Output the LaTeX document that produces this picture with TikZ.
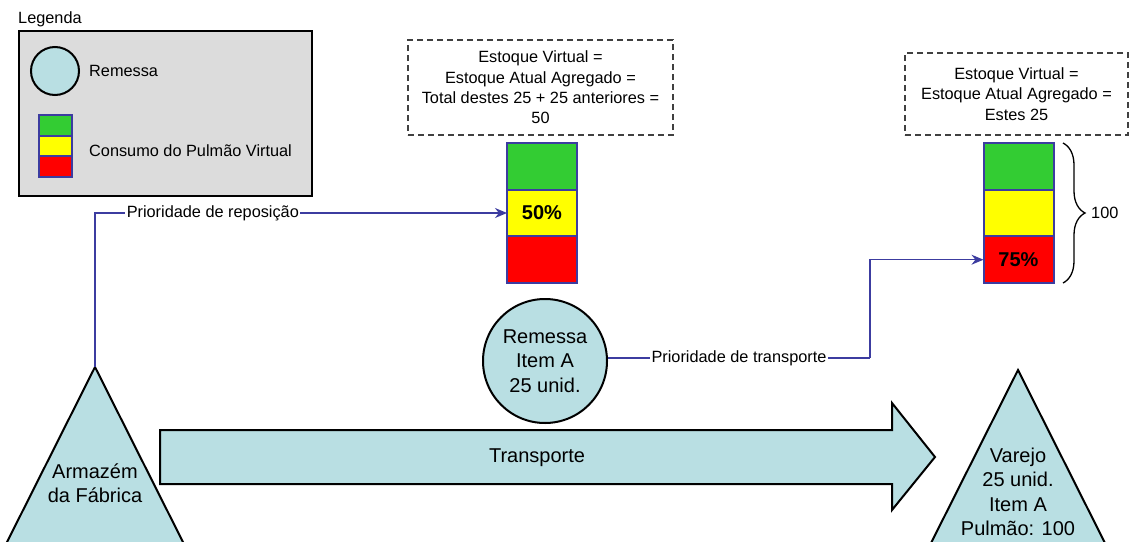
\documentclass[tikz,border=0pt]{standalone}
\usepackage{fontspec}
\setmainfont{Liberation Sans}
\usetikzlibrary{arrows.meta,decorations.pathreplacing}
\definecolor{lblue}{HTML}{B9DFE3}
\definecolor{navy}{HTML}{3C3CA0}
\definecolor{lgray}{HTML}{DCDCDC}
\definecolor{bgreen}{HTML}{33CC33}
\definecolor{byellow}{HTML}{FFFF00}
\definecolor{bred}{HTML}{FF0000}
\newcommand\ftsmall{\fontsize{16.3}{20.3}\selectfont}
\newcommand\ftbig{\fontsize{20}{24.5}\selectfont}
\begin{document}
\begin{tikzpicture}[x=1pt,y=-1pt,
  seg/.style={draw=navy,line width=2pt,minimum width=70pt,minimum height=46.7pt,inner sep=0pt,outer sep=0pt},
  lseg/.style={draw=navy,line width=2pt,minimum width=33pt,minimum height=20.7pt,inner sep=0pt,outer sep=0pt},
  note/.style={draw=black!75,dash pattern=on 6pt off 4pt,line width=1.3pt,align=center,inner sep=0pt,font=\ftsmall},
  conn/.style={draw=navy,line width=1.3pt},
  arr/.style={-{Stealth[length=12pt,width=10pt]}},
  lab/.style={fill=white,inner sep=1.5pt,font=\ftsmall},
  shp/.style={fill=lblue,draw=black,line width=2pt,line join=miter},
  big/.style={font=\ftbig,align=center},
  txt/.style={font=\ftsmall,inner sep=0pt}]
\useasboundingbox (0,0) rectangle (1138,541);
\clip (0,0) rectangle (1138,541);
% legend
\node[txt,anchor=west] (legtitle) at (18,19) {Legenda};
\node[draw=black,fill=lgray,line width=2.5pt,minimum width=293pt,minimum height=165pt,inner sep=0pt] (legbox) at (165.5,113.5) {};
\node[circle,draw=black,fill=lblue,line width=2pt,minimum size=48pt,inner sep=0pt] (legcirc) at (55,71) {};
\node[txt,anchor=west] (legrem) at (89,71) {Remessa};
\node[lseg,fill=bgreen] (lg) at (55.5,125.3) {};
\node[lseg,fill=byellow] (ly) at (55.5,146) {};
\node[lseg,fill=bred] (lr) at (55.5,166.7) {};
\node[txt,anchor=west] (legcons) at (89,151) {Consumo do Pulmão Virtual};
% notes
\node[note,minimum width=265pt,minimum height=95pt] (note1) at (540.5,87.5)
  {Estoque Virtual =\\Estoque Atual Agregado =\\Total destes 25 + 25 anteriores =\\50};
\node[note,minimum width=223pt,minimum height=82pt] (note2) at (1016.5,94)
  {Estoque Virtual =\\Estoque Atual Agregado =\\Estes 25};
% bars
\node[seg,fill=bgreen] (b1g) at (542,166.3) {};
\node[seg,fill=byellow,font=\ftbig\bfseries] (b1y) at (542,213) {50\%};
\node[seg,fill=bred] (b1r) at (542,259.7) {};
\node[seg,fill=bgreen] (b2g) at (1018.5,166.3) {};
\node[seg,fill=byellow] (b2y) at (1018.5,213) {};
\node[seg,fill=bred,font=\ftbig\bfseries] (b2r) at (1018.5,259.7) {75\%};
% brace
\draw[decorate,decoration={brace,amplitude=22pt,aspect=0.5},line width=1.3pt] (1063,143) -- (1063,283);
\node[txt,anchor=west] (hundred) at (1091,213) {100};
% shipment
\node[circle,draw=black,fill=lblue,line width=2pt,minimum size=124pt,inner sep=0pt,big] (rem) at (545,361) {Remessa\\Item A\\25 unid.};
% transport arrow
\draw[shp] (160,430) -- (892,430) -- (892,403) -- (935,457) -- (892,510) -- (892,484) -- (160,484) -- cycle;
\node[big] (transp) at (537,458) {Transporte};
% triangles
\draw[shp] (95,367) -- (192,560) -- (-2,560) -- cycle;
\coordinate (wapex) at (95,367);
\node[big] (armz) at (95,483) {Armazém\\da Fábrica};
\draw[shp] (1018,370) -- (1112,557) -- (924,557) -- cycle;
\node[big] (varejo) at (1018,492) {Varejo\\25 unid.\\Item A\\Pulmão: 100};
% connectors
\draw[conn,arr] (wapex) |- node[lab,pos=0.643] {Prioridade de reposição} (b1y.west);
\coordinate (tc) at (870,358);
\draw[conn] (rem.east |- tc) -- node[lab] {Prioridade de transporte} (tc);
\draw[conn,arr] (tc) |- (b2r.west);
\end{tikzpicture}
\end{document}
